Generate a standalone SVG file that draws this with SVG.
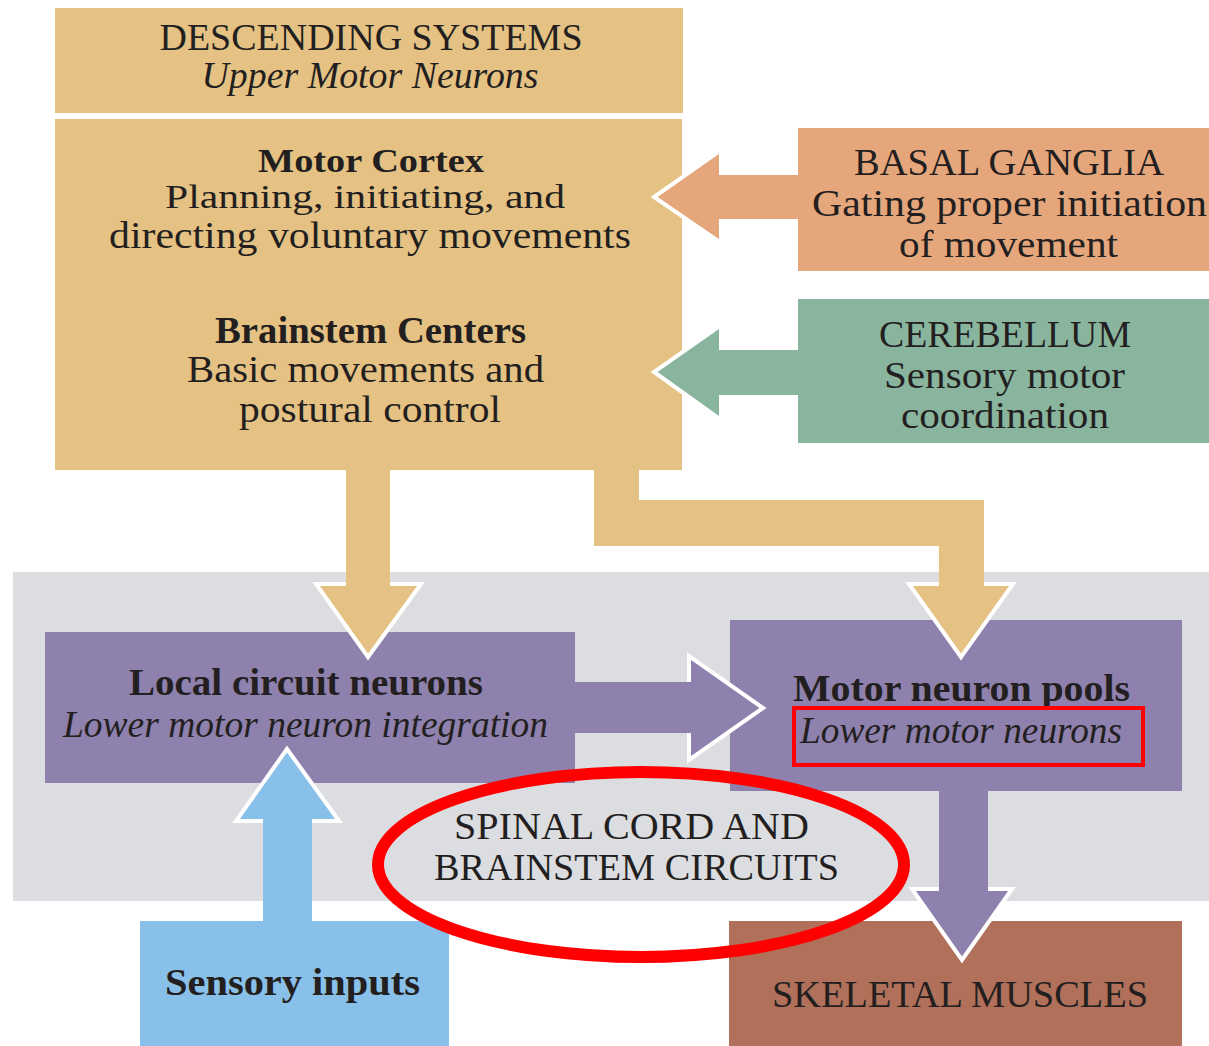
<svg xmlns="http://www.w3.org/2000/svg" width="1209" height="1046" viewBox="0 0 1209 1046">
  <style>
    text { font-family: "Liberation Serif", "Times New Roman", serif; font-size: 37px; fill: #231f20; text-anchor: middle; }
    .b { font-weight: bold; }
    .i { font-style: italic; }
    .tight { font-size: 34px; }
    .tan { fill: #e5c283; }
    .salmon { fill: #e6a67b; }
    .teal { fill: #89b59f; }
    .purple { fill: #8f81ad; }
    .blue { fill: #89c0e9; }
    .brown { fill: #b1705a; }
    .region { fill: #dcdde0; }
    .head { stroke: #ffffff; stroke-width: 4; stroke-linejoin: miter; }
    .mark { fill: none; stroke: #ff0000; }
  </style>

  <rect width="1209" height="1046" fill="#ffffff"/>

  <!-- spinal cord / brainstem region -->
  <g id="region-spinal">
    <rect class="region" x="13" y="572" width="1196" height="329"/>
    <text x="631.5" y="839" textLength="355" lengthAdjust="spacingAndGlyphs">SPINAL CORD AND</text>
    <text x="636.5" y="880" textLength="405" lengthAdjust="spacingAndGlyphs">BRAINSTEM CIRCUITS</text>
  </g>

  <g id="descending-header">
    <rect class="tan" x="55" y="8" width="628" height="105"/>
    <text x="371" y="50" textLength="423" lengthAdjust="spacingAndGlyphs">DESCENDING SYSTEMS</text>
    <text class="i" x="370" y="88" textLength="337" lengthAdjust="spacingAndGlyphs">Upper Motor Neurons</text>
  </g>

  <g id="upper-motor">
    <rect class="tan" x="55" y="119" width="627" height="351"/>
    <text class="b tight" x="371" y="172" textLength="226" lengthAdjust="spacingAndGlyphs">Motor Cortex</text>
    <text class="tight" x="365" y="208" textLength="400" lengthAdjust="spacingAndGlyphs">Planning, initiating, and</text>
    <text x="370" y="248" textLength="522" lengthAdjust="spacingAndGlyphs">directing voluntary movements</text>
    <text class="b" x="370.5" y="343" textLength="311" lengthAdjust="spacingAndGlyphs">Brainstem Centers</text>
    <text x="365.5" y="382" textLength="357" lengthAdjust="spacingAndGlyphs">Basic movements and</text>
    <text x="370" y="422" textLength="262" lengthAdjust="spacingAndGlyphs">postural control</text>
  </g>

  <g id="basal-ganglia">
    <rect class="salmon" x="798" y="128" width="411" height="143"/>
    <text x="1009" y="175" textLength="310" lengthAdjust="spacingAndGlyphs">BASAL GANGLIA</text>
    <text x="1009.5" y="216" textLength="395" lengthAdjust="spacingAndGlyphs">Gating proper initiation</text>
    <text x="1008.5" y="257" textLength="219" lengthAdjust="spacingAndGlyphs">of movement</text>
  </g>

  <g id="cerebellum">
    <rect class="teal" x="798" y="299" width="411" height="144"/>
    <text x="1005" y="347" textLength="252" lengthAdjust="spacingAndGlyphs">CEREBELLUM</text>
    <text x="1004.5" y="388" textLength="241" lengthAdjust="spacingAndGlyphs">Sensory motor</text>
    <text x="1005" y="428" textLength="208" lengthAdjust="spacingAndGlyphs">coordination</text>
  </g>

  <g id="local-circuit">
    <rect class="purple" x="45" y="632" width="530" height="151"/>
    <text class="b" x="306" y="695" textLength="354" lengthAdjust="spacingAndGlyphs">Local circuit neurons</text>
    <text class="i" x="305.5" y="737" textLength="485" lengthAdjust="spacingAndGlyphs">Lower motor neuron integration</text>
  </g>

  <g id="motor-pools">
    <rect class="purple" x="730" y="620" width="452" height="171"/>
    <text class="b" x="961.5" y="701" textLength="337" lengthAdjust="spacingAndGlyphs">Motor neuron pools</text>
    <text class="i" x="961" y="743" textLength="322" lengthAdjust="spacingAndGlyphs">Lower motor neurons</text>
  </g>

  <g id="sensory-inputs">
    <rect class="blue" x="140" y="921" width="309" height="125"/>
    <text class="b" x="292.5" y="995" textLength="255" lengthAdjust="spacingAndGlyphs">Sensory inputs</text>
  </g>

  <g id="skeletal-muscles">
    <rect class="brown" x="729" y="921" width="453" height="125"/>
    <text x="960" y="1007" textLength="376" lengthAdjust="spacingAndGlyphs">SKELETAL MUSCLES</text>
  </g>

  <!-- block arrows: outlined heads, plain shafts laid over the head base -->
  <g id="connectors">
    <!-- basal ganglia to motor cortex -->
    <polygon class="salmon head" points="721,150 721,243 654,197"/>
    <rect class="salmon" x="718" y="175" width="80" height="44"/>
    <!-- cerebellum to brainstem centers -->
    <polygon class="teal head" points="721,325 721,420 654,372"/>
    <rect class="teal" x="718" y="350" width="80" height="45"/>
    <!-- upper motor neurons to local circuits -->
    <polygon class="tan head" points="316,584 421,584 368,657"/>
    <rect class="tan" x="346" y="470" width="44" height="117"/>
    <!-- upper motor neurons to motor neuron pools -->
    <polygon class="tan head" points="909,584 1013,584 961,657"/>
    <polygon class="tan" points="594,470 639,470 639,500 984,500 984,587 939,587 939,546 594,546"/>
    <!-- local circuits to motor neuron pools -->
    <polygon class="purple head" points="689,656 689,760 763,708"/>
    <rect class="purple" x="575" y="682" width="117" height="51"/>
    <!-- sensory inputs to local circuits -->
    <polygon class="blue head" points="236,821 339,821 287,749"/>
    <rect class="blue" x="263" y="818" width="49" height="103"/>
    <!-- motor neuron pools to skeletal muscles -->
    <polygon class="purple head" points="912,889 1012,889 962,960"/>
    <rect class="purple" x="939" y="791" width="49" height="101"/>
  </g>

  <!-- red highlight marks -->
  <g id="highlights">
    <rect class="mark" x="794" y="708" width="349" height="57" stroke-width="4"/>
    <ellipse class="mark" cx="641" cy="864.5" rx="263" ry="92.5" stroke-width="12"/>
  </g>
</svg>
